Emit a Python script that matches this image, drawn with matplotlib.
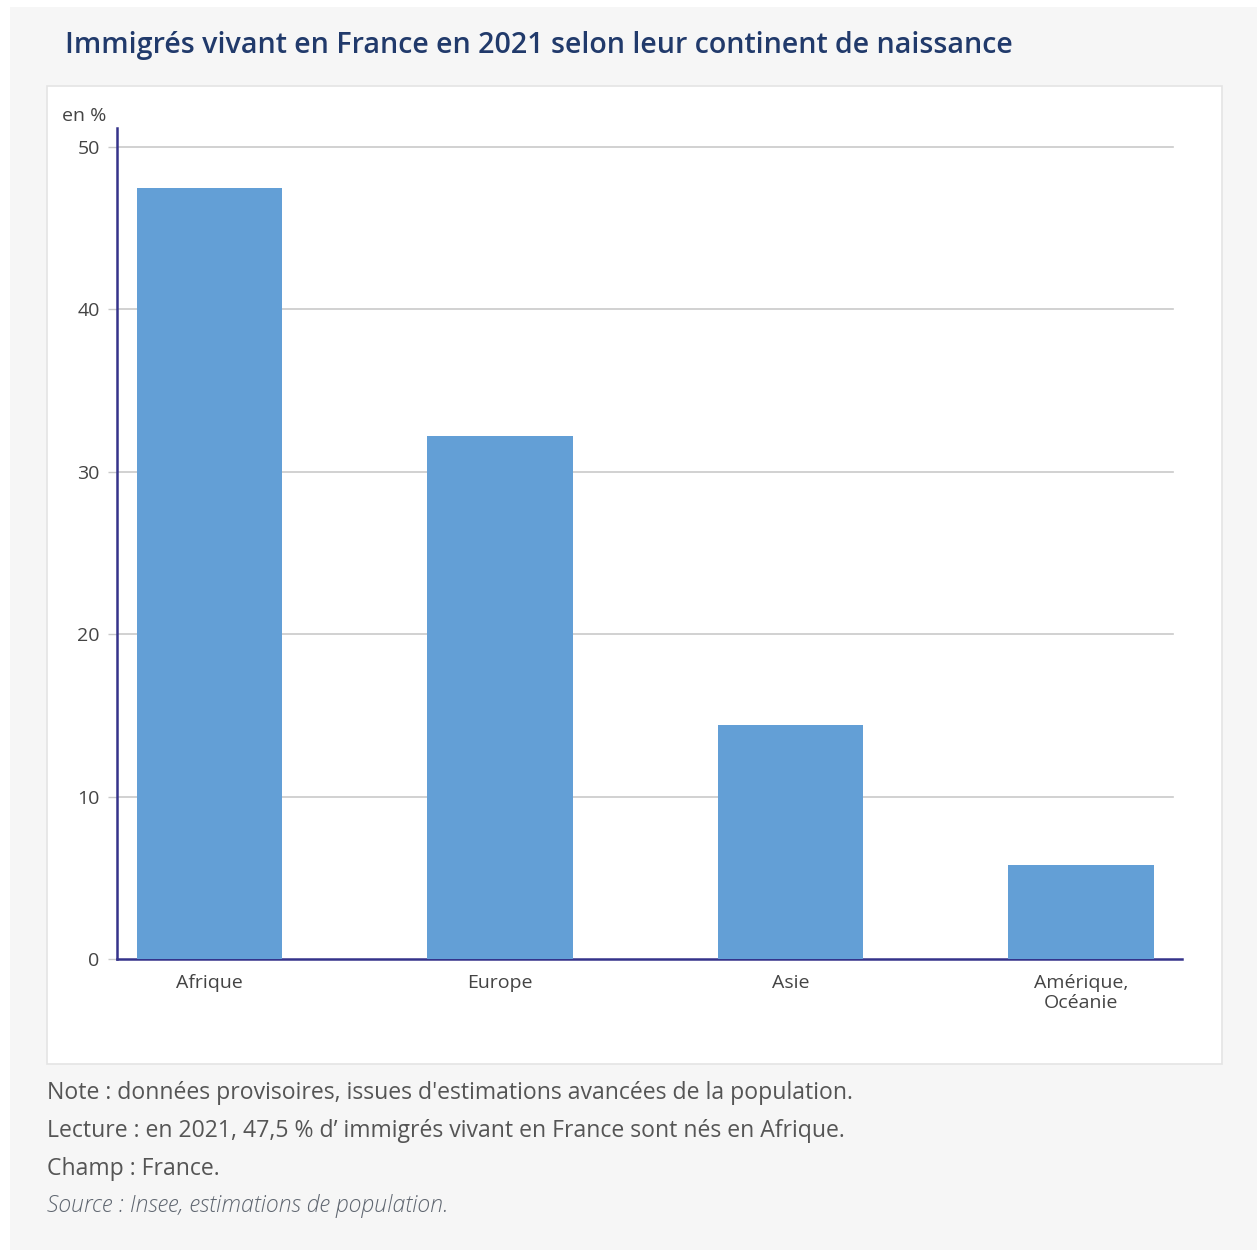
import matplotlib.pyplot as plt
from matplotlib.patches import Rectangle

plt.rcParams['font.family'] = ['Open Sans', 'DejaVu Sans']

# data
categories = ["Afrique", "Europe", "Asie", "Amérique,\nOcéanie"]
values = [47.5, 32.2, 14.4, 5.8]
yticks = [0, 10, 20, 30, 40, 50]

title = "Immigrés vivant en France en 2021 selon leur continent de naissance"
notes = [
    "Note : données provisoires, issues d'estimations avancées de la population.",
    "Lecture : en 2021, 47,5 % d\u2019 immigrés vivant en France sont nés en Afrique.",
    "Champ : France.",
]
source = "Source : Insee, estimations de population."

W, H = 1257, 1250
fig = plt.figure(figsize=(W / 100, H / 100), dpi=100, facecolor="#f6f6f6")

def fx(px):
    return px / W

def fy(py):
    return 1 - py / H

# white margins at left and top, white card behind the chart
fig.patches.append(Rectangle((0, 0), fx(10), 1, transform=fig.transFigure,
                             facecolor="white", edgecolor="none", zorder=-2))
fig.patches.append(Rectangle((0, fy(7)), 1, fy(0) - fy(7), transform=fig.transFigure,
                             facecolor="white", edgecolor="none", zorder=-2))
fig.patches.append(Rectangle((fx(47), fy(1064)), fx(1222 - 47), (1064 - 86) / H,
                             transform=fig.transFigure, facecolor="white",
                             edgecolor="#e4e4e4", linewidth=1.2, zorder=-1))

ax = fig.add_axes([fx(117), fy(959), fx(1182 - 117), (959 - 128) / H])
ax.set_zorder(5)
ax.set_facecolor("none")

x = range(len(categories))
ax.bar(x, values, width=0.5, color="#639fd6", zorder=3)

ax.set_xlim(-0.318, 3.348)
ax.set_ylim(0, 51.17)
ax.set_yticks(yticks)
ax.set_yticklabels([str(t) for t in yticks])
ax.set_xticks(list(x))
ax.set_xticklabels(categories, linespacing=1.15)

for t in yticks[1:]:
    ax.axhline(t, xmin=0, xmax=0.9915, color="#c9c9c9", linewidth=1.2, zorder=1)

for side in ["top", "right"]:
    ax.spines[side].set_visible(False)
ax.spines["left"].set_color("#35338a")
ax.spines["left"].set_linewidth(1.8)
ax.spines["bottom"].set_color("#35338a")
ax.spines["bottom"].set_linewidth(1.8)

ax.tick_params(axis="y", length=6.5, width=1, color="#c9c9c9", pad=6,
               labelsize=14, labelcolor="#444444")
ax.tick_params(axis="x", length=0, pad=11, labelsize=14, labelcolor="#444444")

fig.text(fx(106), fy(116), "en %", ha="right", va="center", fontsize=14,
         color="#444444")

fig.text(fx(65), fy(45), title, ha="left", va="center", fontsize=20.6,
         color="#213a6b", fontweight="semibold")

for i, line in enumerate(notes):
    fig.text(fx(47), fy(1093 + 38 * i), line, ha="left", va="center",
             fontsize=16.6, color="#555555")
fig.text(fx(47), fy(1206), source, ha="left", va="center", fontsize=16.6,
         color="#5f6670", style="italic", fontweight="light")

fig.savefig("out.png", dpi=100, facecolor=fig.get_facecolor())
